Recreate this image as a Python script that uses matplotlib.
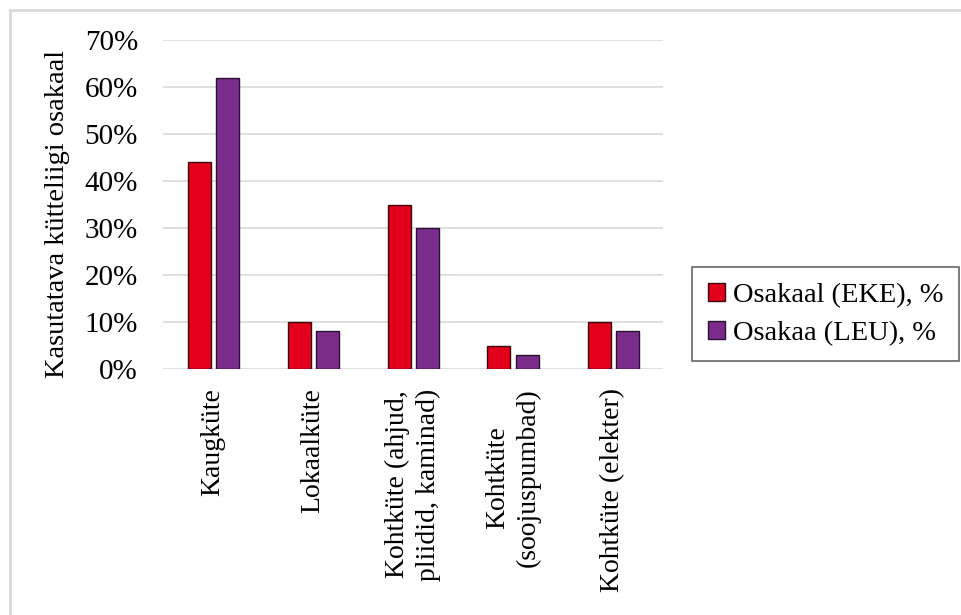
import matplotlib
matplotlib.use("Agg")
import matplotlib.pyplot as plt
from matplotlib.lines import Line2D
from matplotlib.ticker import PercentFormatter
import numpy as np

categories = ["Kaugküte", "Lokaalküte", "Kohtküte (ahjud,\npliidid, kaminad)",
              "Kohtküte\n(soojuspumbad)", "Kohtküte (elekter)"]
eke = [44, 10, 35, 5, 10]
leu = [62, 8, 30, 3, 8]
series_names = ["Osakaal (EKE), %", "Osakaa (LEU), %"]
y_ticks = [0, 10, 20, 30, 40, 50, 60, 70]

plt.rcParams['font.family'] = ['Liberation Serif', 'DejaVu Serif']

W, H = 962, 615
fig = plt.figure(figsize=(W / 100, H / 100), dpi=100)
fig.patch.set_facecolor("white")

# outer chart frame (cropped at right/bottom)
fig.add_artist(Line2D([10 / W, 10 / W], [0, 1 - 10 / H], transform=fig.transFigure,
                      color="#D9D9D9", lw=2))
fig.add_artist(Line2D([10 / W, 1], [1 - 10 / H, 1 - 10 / H], transform=fig.transFigure,
                      color="#D9D9D9", lw=2))

ax = fig.add_axes([163 / W, 1 - 369 / H, 500 / W, (369 - 40) / H])
x = np.arange(len(categories))
bw = 0.23
off = 0.14
ax.bar(x - off, eke, bw, color="#E2001A", edgecolor="#3a0a10", linewidth=1.0,
       label=series_names[0], zorder=3)
ax.bar(x + off, leu, bw, color="#7B2C8B", edgecolor="#2a1030", linewidth=1.0,
       label=series_names[1], zorder=3)

ax.set_xlim(-0.5, len(categories) - 0.5)
ax.set_ylim(0, 70)
ax.set_yticks(y_ticks)
ax.yaxis.set_major_formatter(PercentFormatter(decimals=0))
ax.grid(axis="y", color="#D9D9D9", linewidth=1.2, zorder=0)
for s in ax.spines.values():
    s.set_visible(False)
ax.tick_params(axis="both", length=0)
ax.tick_params(axis="y", pad=18, labelsize=21)
ax.set_xticks(x)
ax.set_xticklabels(categories, rotation=90, ha="center", va="top",
                   multialignment="center", linespacing=1.3, fontsize=20)
ax.tick_params(axis="x", pad=14)
ax.set_ylabel("Kasutatava kütteliigi osakaal", fontsize=20.5)
ax.yaxis.set_label_coords(-0.185, 0.47)

leg = fig.legend(loc="upper left", bbox_to_anchor=(692 / W, 1 - 267 / H),
                 bbox_transform=fig.transFigure, fontsize=20.5, frameon=True,
                 fancybox=False, edgecolor="#404040", handlelength=0.6,
                 handleheight=0.6, handletextpad=0.3, borderpad=0.55,
                 labelspacing=0.45, borderaxespad=0)
leg.get_frame().set_linewidth(1.2)

fig.savefig("out.png", dpi=100, facecolor="white")
